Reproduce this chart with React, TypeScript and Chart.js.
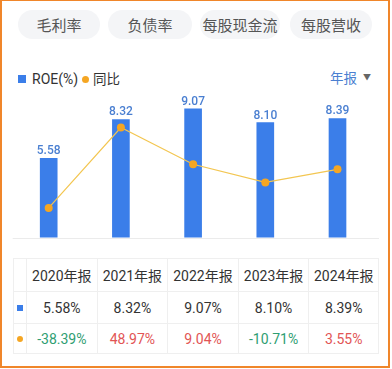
import React, { useEffect, useRef } from "react";
import { Chart, registerables } from "chart.js";

Chart.register(...registerables);

const categories = ["2020年报", "2021年报", "2022年报", "2023年报", "2024年报"];
const roeValues = [5.58, 8.32, 9.07, 8.1, 8.39];
const yoyValues = [-38.39, 48.97, 9.04, -10.71, 3.55];
const roeLabels = ["5.58", "8.32", "9.07", "8.10", "8.39"];
const roeCells = ["5.58%", "8.32%", "9.07%", "8.10%", "8.39%"];
const yoyCells = ["-38.39%", "48.97%", "9.04%", "-10.71%", "3.55%"];
const tabs = ["毛利率", "负债率", "每股现金流", "每股营收"];

const BLUE = "#3b7ee9";
const LABEL_BLUE = "#4a7fd1";
const ORANGE = "#f5a623";
const LINE = "#f3c651";
const GREEN = "#2f9e72";
const RED = "#e25555";
const FONT = "Roboto, 'Noto Sans CJK SC', sans-serif";

export default function App() {
  const ref = useRef<HTMLCanvasElement | null>(null);

  useEffect(() => {
    document.body.style.margin = "0";
    const canvas = ref.current;
    if (!canvas) return;
    const labelPlugin = {
      id: "barLabels",
      afterDatasetsDraw(chart: any) {
        const ctx = chart.ctx;
        const meta = chart.getDatasetMeta(0);
        ctx.save();
        ctx.font = "500 12px " + FONT;
        ctx.fillStyle = LABEL_BLUE;
        ctx.textAlign = "center";
        ctx.textBaseline = "bottom";
        meta.data.forEach((el: any, i: number) => {
          ctx.fillText(roeLabels[i], el.x, el.y - 1);
        });
        ctx.restore();
      },
      beforeDatasetsDraw(chart: any) {
        const ctx = chart.ctx;
        const a = chart.chartArea;
        ctx.save();
        ctx.strokeStyle = "#ebebeb";
        ctx.lineWidth = 1;
        ctx.beginPath();
        ctx.moveTo(12.7, Math.round(a.bottom) + 0.5);
        ctx.lineTo(379, Math.round(a.bottom) + 0.5);
        ctx.stroke();
        ctx.restore();
      },
    };
    const chart = new Chart(canvas, {
      type: "bar",
      data: {
        labels: categories,
        datasets: [
          {
            type: "bar",
            label: "ROE(%)",
            data: roeValues,
            backgroundColor: BLUE,
            barThickness: 17,
            yAxisID: "y",
            order: 2,
          },
          {
            type: "line",
            label: "同比",
            data: yoyValues,
            borderColor: LINE,
            borderWidth: 1.2,
            pointRadius: 4,
            pointBackgroundColor: ORANGE,
            pointBorderWidth: 0,
            yAxisID: "y1",
            order: 1,
          } as any,
        ],
      },
      options: {
        animation: false,
        responsive: false,
        maintainAspectRatio: false,
        layout: { padding: { left: 12.6, right: 18.4, top: 5.6, bottom: 12.4 } },
        plugins: { legend: { display: false }, tooltip: { enabled: false } },
        scales: {
          x: { display: false, offset: true },
          y: { display: false, min: 0, max: 10 },
          y1: { display: false, min: -70.7, max: 83.7 },
        },
      },
      plugins: [labelPlugin],
    });
    return () => chart.destroy();
  }, []);

  const tabPos = [
    [18, 82],
    [108, 84],
    [200, 80],
    [290, 82],
  ];
  const colW = 70.6;
  const tableLeft = 12.7;
  const firstW = 13.3;
  const rowTops = [258, 291, 323];
  const rowHs = [33, 32, 31];
  const border = "1px solid #efefef";

  const cellStyle = (x: number, y: number, w: number, h: number): React.CSSProperties => ({
    position: "absolute",
    left: x,
    top: y,
    width: w,
    height: h,
    boxSizing: "border-box",
    display: "flex",
    alignItems: "center",
    justifyContent: "center",
    fontFamily: FONT,
    fontSize: 14,
  });

  return (
    <div style={{ position: "relative", width: 392, height: 369, background: "#fff", overflow: "hidden" }}>
      {tabs.map((t, i) => (
        <div
          key={t}
          style={{
            position: "absolute",
            left: tabPos[i][0],
            top: 10,
            width: tabPos[i][1],
            height: 29,
            borderRadius: 15,
            background: "#f4f5f7",
            color: "#555",
            fontFamily: FONT,
            fontSize: 15,
            display: "flex",
            alignItems: "center",
            justifyContent: "center",
          }}
        >
          {t}
        </div>
      ))}

      <div style={{ position: "absolute", left: 18, top: 75, width: 8, height: 8, background: BLUE }} />
      <div style={{ position: "absolute", left: 32, top: 70, fontFamily: FONT, fontSize: 14, color: "#333", lineHeight: "18px" }}>ROE(%)</div>
      <div style={{ position: "absolute", left: 81.5, top: 75.5, width: 7, height: 7, borderRadius: 4, background: ORANGE }} />
      <div style={{ position: "absolute", left: 93, top: 70, fontFamily: FONT, fontSize: 13.5, color: "#333", lineHeight: "18px" }}>同比</div>
      <div style={{ position: "absolute", left: 330, top: 69, fontFamily: FONT, fontSize: 13.5, color: LABEL_BLUE, lineHeight: "18px" }}>年报</div>
      <div style={{ position: "absolute", left: 363, top: 72, fontSize: 8, color: "#666", lineHeight: "12px", fontFamily: FONT }}>▼</div>

      <canvas ref={ref} width={392} height={160} style={{ position: "absolute", left: 0, top: 90, width: 392, height: 160 }} />

      {/* table */}
      {rowTops.map((top, r) => (
        <React.Fragment key={r}>
          <div style={{ ...cellStyle(tableLeft, top, firstW, rowHs[r]), borderTop: border, borderLeft: border, borderBottom: r === 2 ? border : undefined }}>
            {r === 1 && <div style={{ width: 6, height: 6, background: BLUE }} />}
            {r === 2 && <div style={{ width: 6, height: 6, borderRadius: 3, background: ORANGE }} />}
          </div>
          {categories.map((c, i) => {
            let text = c;
            let color = "#333";
            if (r === 1) text = roeCells[i];
            if (r === 2) {
              text = yoyCells[i];
              color = yoyValues[i] < 0 ? GREEN : RED;
            }
            return (
              <div
                key={c}
                style={{
                  ...cellStyle(tableLeft + firstW + i * colW, top, colW, rowHs[r]),
                  borderTop: border,
                  borderLeft: border,
                  borderRight: i === 4 ? border : undefined,
                  borderBottom: r === 2 ? border : undefined,
                  color,
                }}
              >
                {text}
              </div>
            );
          })}
        </React.Fragment>
      ))}

      <div
        style={{
          position: "absolute",
          left: 0,
          top: 0,
          width: 390,
          height: 368,
          boxSizing: "border-box",
          borderLeft: "2px solid #f0862a",
          borderTop: "1px solid #f0862a",
          borderRight: "2px solid #f0862a",
          borderBottom: "2px solid #f0862a",
          pointerEvents: "none",
        }}
      />
    </div>
  );
}
